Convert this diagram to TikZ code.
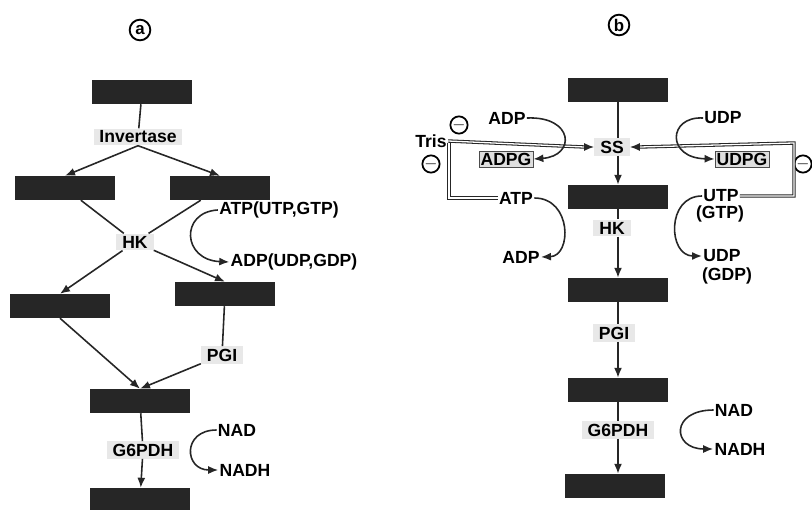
\documentclass[tikz,border=0pt]{standalone}
\usepackage{fontspec}
\setmainfont{Liberation Sans}
\usetikzlibrary{arrows.meta}
\tikzset{
  sugar/.style={fill=black!85,minimum width=3cm,minimum height=0.72cm,inner sep=0pt},
  enz/.style={fill=gray!18,inner xsep=5pt,inner ysep=2pt,font=\bfseries\fontsize{15}{17}\selectfont},
  met/.style={inner sep=1pt,font=\bfseries\fontsize{15}{17}\selectfont},
  nucl/.style={draw=black!70,fill=gray!25,inner sep=1.5pt,font=\bfseries\fontsize{15}{17}\selectfont},
  inhib/.style={circle,draw,line width=1.5pt,minimum size=0.5cm,inner sep=0pt,font=\bfseries\Large},
  tag/.style={circle,draw,line width=1.6pt,minimum size=0.62cm,inner sep=0pt,font=\bfseries\Large},
  flow/.style={-{Latex[length=3mm,width=2.4mm]},line width=1.35pt,black!85},
  link/.style={line width=1.35pt,black!85},
  frame/.style={double,double distance=1.1pt,line width=0.9pt,black!85}
}
\begin{document}
\begin{tikzpicture}[x=0.03cm,y=-0.03cm]
\useasboundingbox (0,0) rectangle (812,510);
% panel a
\node[tag] (ta) at (140,30) {a};
\node[sugar] (a1) at (142,92) {};
\node[enz] (inv) at (138,137) {Invertase};
\node[sugar] (a2) at (65,188) {};
\node[sugar] (a3) at (220,188) {};
\node[enz] (hka) at (135,242) {HK};
\node[met] (atpa) at (279,210) {ATP(UTP,GTP)};
\node[met] (adpa) at (294,262) {ADP(UDP,GDP)};
\node[sugar] (a4) at (60,306) {};
\node[sugar] (a5) at (225,294) {};
\node[enz] (pgia) at (222,355) {PGI};
\node[sugar] (a6) at (140,401) {};
\node[enz] (g6a) at (143,450) {G6PDH};
\node[met] (nada) at (237,430) {NAD};
\node[met] (nadha) at (245,470) {NADH};
\node[sugar] (a7) at (140,500) {};
\draw[link] (a1) -- (inv);
\draw[flow] (inv.south) -- (a2.north);
\draw[flow] (inv.south) -- (a3.north);
\draw[link] (a2) -- (hka);
\draw[link] (a3) -- (hka);
\draw[flow] (hka) -- (a4.north);
\draw[flow] (hka) -- (a5.north);
\draw[link] (a5) -- (pgia);
\draw[flow] (pgia) -- (a6.north);
\draw[flow] (a4.south) -- (a6.north);
\draw[link] (a6) -- (g6a);
\draw[flow] (g6a) -- (a7);
\draw[flow] (atpa.west) .. controls (180,212) and (182,260) .. (adpa.west);
\draw[flow] (nada.west) .. controls (182,430) and (184,470) .. (nadha.west);
% panel b
\node[tag] (tb) at (619,25) {b};
\node[sugar] (b1) at (618,90) {};
\node[enz] (ss) at (612,147) {SS};
\node[met] (adpt) at (507,118) {ADP};
\node[nucl] (adpg) at (506,159) {ADPG};
\node[met] (udpt) at (723,118) {UDP};
\node[nucl] (udpg) at (742,159) {UDPG};
\node[met] (tris) at (431,141) {Tris};
\node[inhib] (m1) at (459,125) {$-$};
\node[inhib] (m2) at (431,164) {$-$};
\node[inhib] (m3) at (803,164) {$-$};
\node[sugar] (b2) at (618,197) {};
\node[met] (atpb) at (516,198) {ATP};
\node[met] (adpb) at (521,257) {ADP};
\node[enz] (hkb) at (612,228) {HK};
\node[met] (utp) at (721,196) {UTP};
\node[met] (gtp) at (720,214) {(GTP)};
\node[met] (udp) at (722,256) {UDP};
\node[met] (gdp) at (727,276) {(GDP)};
\node[sugar] (b3) at (618,290) {};
\node[enz] (pgib) at (614,333) {PGI};
\node[sugar] (b4) at (618,390) {};
\node[enz] (g6b) at (618,430) {G6PDH};
\node[sugar] (b5) at (615,486) {};
\node[met] (nadb) at (734,410) {NAD};
\node[met] (nadhb) at (740,449) {NADH};
\coordinate (cl) at (449,143);
\coordinate (cr) at (794,143);
\draw[link] (b1.south) -- (b1.south |- ss.north);
\draw[flow] (b2.north |- ss.south) -- (b2.north);
\draw[link] (b2.south) -- (b2.south |- hkb.north);
\draw[flow] (b3.north |- hkb.south) -- (b3.north);
\draw[link] (b3.south) -- (b3.south |- pgib.north);
\draw[flow] (b4.north |- pgib.south) -- (b4.north);
\draw[link] (b4.south) -- (b4.south |- g6b.north);
\draw[flow] (b4.south |- g6b.south) -- (b4.south |- b5.north);
\draw[frame] (atpb.west) -| (cl);
\draw[frame] (tris.east) -- ([xshift=-3mm]ss.west);
\draw[flow] ([xshift=-3mm]ss.west) -- (ss.west);
\draw[frame] (utp.east) -| (cr) -- ([xshift=3mm]ss.east);
\draw[flow] ([xshift=3mm]ss.east) -- (ss.east);
\draw[flow] (adpt.east) .. controls (574,116) and (576,156) .. (adpg.east);
\draw[flow] (udpt.west) .. controls (668,116) and (666,158) .. (udpg.west);
\draw[flow] (atpb.east) .. controls (572,198) and (572,256) .. (adpb.east);
\draw[flow] (utp.west) .. controls (666,196) and (668,256) .. (udp.west);
\draw[flow] (nadb.west) .. controls (670,410) and (672,449) .. (nadhb.west);
\end{tikzpicture}
\end{document}
